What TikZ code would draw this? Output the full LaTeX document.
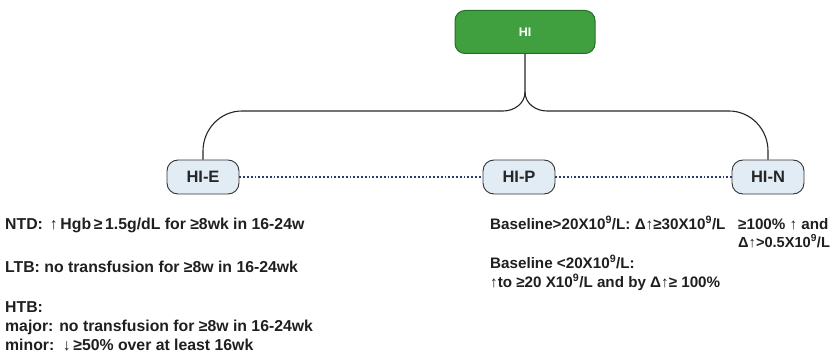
\documentclass[tikz,border=0pt]{standalone}
\usepackage{fontspec}
\setmainfont{Liberation Sans}
\definecolor{hgreen}{RGB}{64,160,64}
\definecolor{hgreenb}{RGB}{36,110,40}
\definecolor{nodefill}{RGB}{226,236,244}
\definecolor{dotc}{RGB}{40,60,110}
\begin{document}
\begin{tikzpicture}[x=1pt,y=-1pt,
  hinode/.style={draw=black!80,line width=0.9pt,fill=nodefill,rounded corners=11pt,minimum width=72pt,minimum height=34pt,font=\bfseries\fontsize{16.5}{16.5}\selectfont,text=black!85},
  toptxt/.style={fill=hgreen,draw=hgreenb,line width=1pt,rounded corners=10pt,minimum width=140pt,minimum height=43pt,font=\bfseries\fontsize{12.5}{12.5}\selectfont,text=white},
  lbl/.style={anchor=base west,inner sep=0pt,font=\bfseries\fontsize{15.8}{19}\selectfont,text=black!88},
  rlbl/.style={lbl,font=\bfseries\fontsize{15.2}{18}\selectfont},
  brace/.style={draw=black!85,line width=1.1pt},
  dots/.style={draw=dotc,line width=1.8pt,dotted}]
\useasboundingbox (0,0) rectangle (833,361);
\node[toptxt] (hi) at (525,32) {HI};
\node[hinode] (hie) at (203,177) {HI-E};
\node[hinode] (hip) at (519,177) {HI-P};
\node[hinode] (hin) at (768,177) {HI-N};
\coordinate (bm) at (525,92);
\draw[brace] (hi.south) -- (bm) to[out=270,in=0] (503,111) -- (242,111) to[out=180,in=90] (203,151) -- (hie.north);
\draw[brace] (bm) to[out=270,in=180] (547,111) -- (729,111) to[out=0,in=90] (768,151) -- (hin.north);
\draw[dots] (hie.east) -- (hip.west);
\draw[dots] (hip.east) -- (hin.west);
\node[lbl] (ntd) at (5,229) {NTD: \,↑\,Hgb\,≥\,1.5g/dL for ≥8wk in 16-24w};
\node[lbl] (ltb) at (5,272) {LTB: no transfusion for ≥8w in 16-24wk};
\node[lbl] (htb) at (5,312) {HTB:};
\node[lbl] (maj) at (5,331) {major: no transfusion for ≥8w in 16-24wk};
\node[lbl] (min) at (5,350) {minor: \,↓\,≥50\% over at least 16wk};
\node[rlbl] (p1) at (490,229) {Baseline>20X10\textsuperscript{9}/L: Δ↑≥30X10\textsuperscript{9}/L};
\node[rlbl] (p2) at (490,268) {Baseline <20X10\textsuperscript{9}/L:};
\node[rlbl] (p3) at (490,287) {↑to ≥20 X10\textsuperscript{9}/L and by Δ↑≥ 100\%};
\node[rlbl] (n1) at (738,229) {≥100\% ↑ and};
\node[lbl,font=\bfseries\fontsize{14.6}{17}\selectfont] (n2) at (738,247) {Δ↑>0.5X10\textsuperscript{9}/L};
\end{tikzpicture}
\end{document}
